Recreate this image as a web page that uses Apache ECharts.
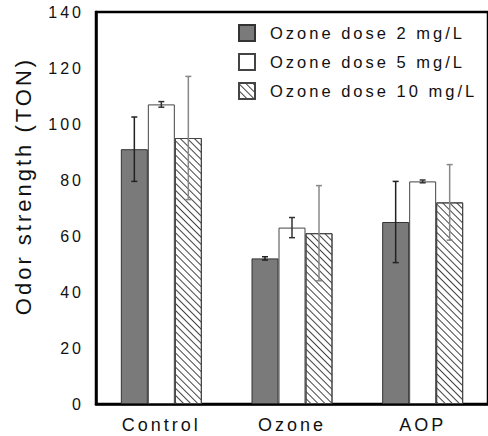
<!DOCTYPE html>
<html>
<head>
<meta charset="utf-8">
<script src="https://cdn.jsdelivr.net/npm/echarts@6/dist/echarts.min.js"></script>
<style>
  html, body { margin: 0; padding: 0; background: #fff; }
  #chart { width: 488px; height: 436px; }
  /* the original uses wide letter spacing everywhere */
  #chart text { letter-spacing: 3px; }
</style>
</head>
<body>
<div id="chart"></div>
<script>
  var categories = ['Control', 'Ozone', 'AOP'];
  var seriesNames = ['Ozone dose 2 mg/L', 'Ozone dose 5 mg/L', 'Ozone dose 10 mg/L'];
  var dose2 = [91, 52, 65];
  var dose5 = [107, 63, 79.5];
  var dose10 = [95, 61, 72];
  var err2 = [11.5, 0.6, 14.5];
  var err5 = [1, 3.6, 0.5];
  var err10 = [22, 17, 13.5];

  var font = 'Liberation Sans, Arial, sans-serif';
  var barW = 27;

  function errorSeries(values, errs, offset, color) {
    return {
      type: 'custom',
      silent: true,
      z: 10,
      encode: { x: 0, y: 1 },
      data: values.map(function (v, i) { return [i, v, errs[i]]; }),
      renderItem: function (params, api) {
        var c = api.value(0), v = api.value(1), e = api.value(2);
        var hi = api.coord([c, v + e]);
        var lo = api.coord([c, v - e]);
        var x = hi[0] + offset;
        var st = { stroke: color, lineWidth: 1.5 };
        return {
          type: 'group',
          children: [
            { type: 'line', shape: { x1: x, y1: hi[1], x2: x, y2: lo[1] }, style: st },
            { type: 'line', shape: { x1: x - 3, y1: hi[1], x2: x + 3, y2: hi[1] }, style: st },
            { type: 'line', shape: { x1: x - 3, y1: lo[1], x2: x + 3, y2: lo[1] }, style: st }
          ]
        };
      }
    };
  }

  var chart = echarts.init(document.getElementById('chart'), null, { renderer: 'svg' });
  var option = {
    backgroundColor: '#fff',
    animation: false,
    textStyle: { fontFamily: font, color: '#111' },
    grid: {
      left: 96, right: -4, top: 12, bottom: 32,
      show: true, borderColor: '#000', borderWidth: 2.5
    },
    legend: {
      data: seriesNames,
      orient: 'vertical',
      left: 238,
      top: 24,
      itemWidth: 16,
      itemHeight: 16,
      itemGap: 11,
      padding: 0,
      icon: 'rect',
      textStyle: { fontSize: 16.5, fontFamily: font, color: '#111', padding: [0, 0, 0, 10] }
    },
    xAxis: {
      type: 'category',
      data: categories,
      axisLine: { lineStyle: { color: '#000', width: 2.5 } },
      axisTick: { show: false },
      axisLabel: { fontSize: 18, margin: 12, color: '#111', fontFamily: font }
    },
    yAxis: {
      type: 'value',
      min: 0,
      max: 140,
      interval: 20,
      name: 'Odor strength (TON)',
      nameLocation: 'middle',
      nameGap: 62,
      nameTextStyle: { fontSize: 22, color: '#111', fontFamily: font, padding: [0, 0, 0, 44] },
      axisLine: { show: true, lineStyle: { color: '#000', width: 2.5 } },
      axisTick: { show: false },
      splitLine: { show: false },
      axisLabel: { fontSize: 16, margin: 12, color: '#111', fontFamily: font }
    },
    series: [
      {
        name: seriesNames[0], type: 'bar', data: dose2, barWidth: barW, barGap: '0%',
        itemStyle: { color: '#7a7a7a', borderColor: '#333', borderWidth: 1 }
      },
      {
        name: seriesNames[1], type: 'bar', data: dose5, barWidth: barW, barGap: '0%',
        itemStyle: { color: '#fff', borderColor: '#444', borderWidth: 1 }
      },
      {
        name: seriesNames[2], type: 'bar', data: dose10, barWidth: barW, barGap: '0%',
        itemStyle: {
          color: '#fff', borderColor: '#444', borderWidth: 1,
          decal: {
            symbol: 'rect', symbolSize: 1, color: '#444',
            dashArrayX: [1, 0], dashArrayY: [1, 4], rotation: Math.PI / 4
          }
        }
      },
      errorSeries(dose2, err2, -barW, '#222'),
      errorSeries(dose5, err5, 0, '#333'),
      errorSeries(dose10, err10, barW, '#888')
    ]
  };
  chart.setOption(option);
</script>
</body>
</html>
